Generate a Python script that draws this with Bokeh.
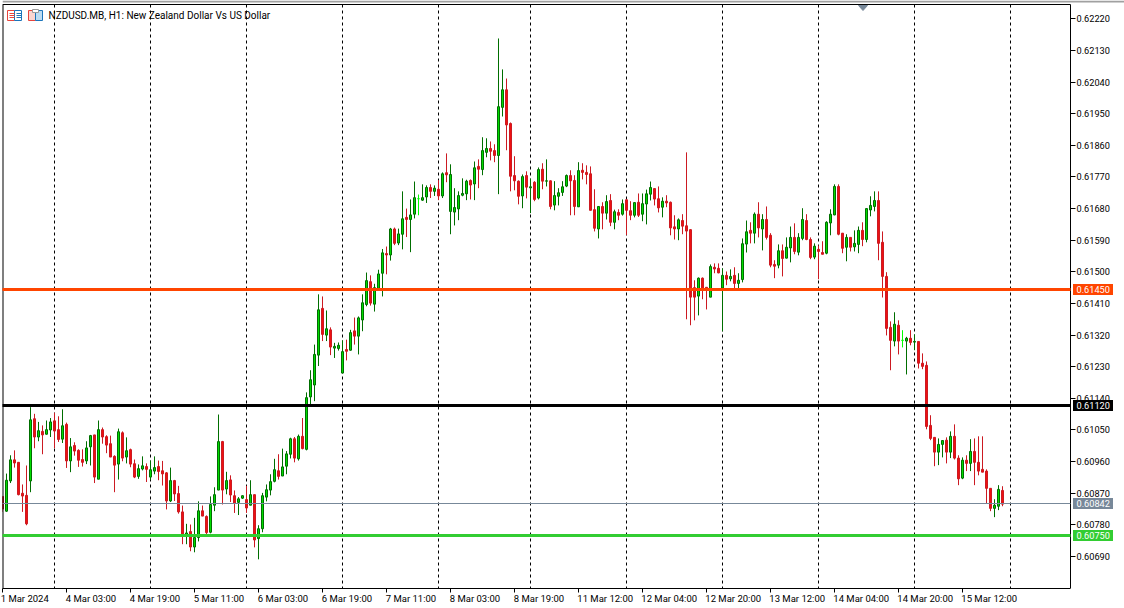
from bokeh.plotting import figure
from bokeh.models import ColumnDataSource, FixedTicker, LinearAxis, Range1d, PrintfTickFormatter
from bokeh.core.properties import value
from bokeh.embed import file_html
from bokeh.resources import INLINE

# Prices in points (1e-5). G = up, R = down, D = doji
highs = [60861,60926,60978,60992,60958,60895,60949,61115,61096,61073,
61063,61077,61084,61099,61089,61109,61071,61027,61015,60995,
60995,61018,61036,61036,61077,61057,61035,61034,60978,61054,
61046,61029,60997,60966,60952,60975,60955,60963,60975,60963,
60962,60930,60943,60908,60891,60835,60783,60781,60800,60847,
60835,60807,60861,60887,61094,61019,60931,60921,60878,60859,
60864,60891,60907,60866,60779,60871,60895,60924,60968,60981,
60997,60990,61028,61030,61037,61084,61157,61220,61293,61436,
61430,61390,61342,61298,61299,61305,61307,61335,61370,61373,
61436,61498,61490,61466,61506,61565,61572,61625,61626,61623,
61729,61680,61706,61757,61720,61749,61746,61749,61746,61761,
61783,61837,61806,61738,61729,61766,61762,61763,61814,61820,
61883,61880,61871,61863,62164,62076,62050,61925,61829,61760,
61777,61786,61765,61758,61797,61809,61820,61760,61758,61738,
61758,61777,61789,61775,61812,61809,61803,61800,61735,61686,
61698,61718,61721,61677,61678,61706,61706,61701,61698,61723,
61723,61734,61757,61737,61743,61712,61718,61700,61661,61652,
61664,61840,61621,61476,61484,61484,61456,61521,61524,61524,
61510,61501,61507,61513,61496,61595,61646,61641,61669,61698,
61664,61686,61610,61533,61578,61578,61598,61629,61638,61610,
61681,61664,61598,61581,61575,61587,61644,61678,61749,61749,
61610,61607,61598,61618,61629,61641,61681,61715,61729,61729,
61615,61499,61359,61385,61362,61334,61315,61334,61322,61302,
61268,61245,61092,61029,61026,61021,61029,61046,61066,60978,
60972,60978,61024,61026,61032,61032,60938,60884,60853,60893,60890]

body_tops = [60861,60907,60965,60965,60958,60870,60864,61079,61082,61048,
61046,61051,61073,61076,61051,61062,61066,61002,61006,60992,
60966,60999,61034,61036,61051,61051,61031,61011,60975,61045,
61042,60991,60994,60954,60940,60948,60946,60937,60943,60946,
60934,60928,60906,60906,60869,60817,60757,60761,60744,60820,
60820,60804,60838,60866,61017,61017,60906,60908,60863,60854,
60863,60852,60866,60866,60769,60863,60880,60903,60937,60934,
60945,60982,61025,61025,61032,61032,61142,61193,61265,61392,
61396,61338,61335,61288,61291,61273,61279,61327,61332,61369,
61412,61475,61472,61455,61494,61554,61552,61622,61622,61608,
61651,61655,61662,61711,61708,61711,61740,61740,61738,61735,
61779,61782,61777,61683,61717,61723,61758,61760,61796,61800,
61845,61851,61851,61845,61970,62018,62018,61922,61774,61758,
61771,61774,61742,61755,61791,61792,61759,61759,61717,61725,
61742,61774,61774,61760,61788,61789,61783,61779,61677,61686,
61686,61700,61703,61671,61669,61694,61705,61674,61697,61698,
61694,61722,61740,61737,61708,61701,61701,61698,61628,61648,
61646,61631,61620,61455,61482,61482,61456,61515,61513,61510,
61490,61490,61487,61490,61476,61580,61614,61618,61664,61664,
61649,61649,61604,61521,61560,61560,61570,61598,61598,61598,
61649,61646,61592,61573,61564,61555,61641,61664,61743,61743,
61610,61598,61598,61581,61618,61618,61680,61689,61703,61703,
61584,61487,61342,61351,61348,61305,61311,61311,61302,61302,
61240,61234,61063,61029,61009,61020,61021,61032,61032,60970,
60964,60964,60989,60989,60958,60938,60933,60884,60836,60881,60878]

body_bottoms = [60825,60819,60905,60956,60866,60862,60783,60905,61030,61030,
61036,61038,61050,61047,61023,61024,60962,60962,60990,60964,
60958,60962,61002,60916,60910,61030,61007,60973,60950,60953,
60970,60973,60953,60916,60918,60939,60938,60916,60933,60932,
60925,60848,60848,60868,60817,60752,60750,60717,60717,60744,
60805,60758,60759,60836,60879,60879,60882,60865,60841,60844,
60856,60828,60836,60737,60741,60769,60859,60879,60904,60918,
60919,60947,60981,60970,60968,60997,60995,61144,61178,61263,
61322,61320,61286,61283,61282,61212,61274,61277,61317,61317,
61363,61407,61411,61408,61453,61496,61548,61548,61581,61582,
61607,61649,61649,61664,61708,61704,61713,61729,61729,61716,
61716,61776,61672,61670,61679,61718,61722,61747,61750,61792,
61791,61840,61843,61831,61831,61968,61918,61772,61759,61715,
61716,61741,61739,61706,61710,61758,61758,61686,61690,61715,
61726,61744,61759,61686,61685,61783,61777,61675,61624,61622,
61667,61667,61641,61641,61661,61664,61675,61661,61661,61661,
61664,61693,61721,61707,61682,61684,61696,61625,61622,61622,
61630,61616,61428,61428,61431,61452,61447,61428,61508,61497,
61454,61479,61480,61467,61467,61478,61579,61610,61610,61625,
61622,61598,61519,61516,61519,61538,61539,61568,61558,61556,
61595,61592,61541,61542,61558,61550,61553,61639,61662,61607,
61567,61570,61570,61571,61578,61592,61592,61676,61686,61581,
61487,61339,61305,61303,61303,61305,61303,61299,61300,61240,
61231,61060,61026,60987,60987,61009,60987,60987,60970,60911,
60913,60955,60955,60958,60933,60930,60884,60827,60827,60833,60839]

lows = [60817,60817,60899,60943,60864,60817,60779,60873,60998,61018,
60981,61037,61030,60998,61016,61013,60942,60930,60977,60945,
60946,60953,60949,60899,60910,61011,60984,60973,60873,60909,
60961,60955,60944,60913,60911,60935,60902,60908,60924,60907,
60892,60824,60845,60848,60812,60725,60725,60705,60702,60733,
60805,60752,60756,60819,60879,60838,60867,60845,60814,60808,
60854,60814,60836,60716,60682,60759,60847,60864,60901,60909,
60919,60924,60969,60958,60963,60995,60992,61123,61132,61232,
61303,61303,61263,61255,61276,61212,61248,61276,61293,61265,
61331,61402,61404,61387,61447,61430,61493,61532,61576,61576,
61564,61599,61556,61652,61661,61702,61696,61710,61716,61704,
61710,61755,61607,61632,61647,61715,61704,61706,61704,61738,
61775,61826,61817,61812,61721,61942,61846,61729,61732,61692,
61681,61709,61667,61701,61706,61735,61743,61678,61675,61689,
61716,61741,61661,61661,61685,61763,61749,61675,61615,61595,
61621,61649,61630,61621,61647,61660,61605,61647,61655,61656,
61644,61635,61703,61689,61669,61655,61684,61604,61592,61590,
61607,61365,61348,61362,61376,61422,61393,61428,61496,61496,
61331,61462,61473,61452,61452,61470,61555,61581,61581,61598,
61561,61592,61513,61482,61510,61487,61538,61527,61550,61547,
61590,61590,61536,61536,61479,61550,61550,61604,61661,61604,
61553,61530,61558,61558,61553,61573,61584,61658,61672,61533,
61427,61319,61220,61288,61265,61285,61208,61291,61277,61225,
61223,61052,61021,60947,60950,60972,60955,60970,60966,60893,
60910,60933,60933,60893,60921,60930,60841,60819,60802,60822,60833]

directions = ("RGGRRRRGRG" "RGGRRGRGRR" "RGGRGRRRRG" "RGRRGGRGGR"
              "RRGRRRGRGG" "RRGGGRGRRG" "GRGRGGGGGR" "GGGRGRGGGG"
              "RGRGGGRGRG" "GGRGGGRGRG" "GRGGDGGRGR" "GRGGGGGRGR"
              "GGRRGGRRRR" "GRGRGRGRGG" "GGRRGRRRRG" "RGRGRGRRGR"
              "GGGRRGRRRG" "RRRRGRRGRR" "GRGRGGGRGR" "GRRRGRGGRG"
              "GRRGRRGGGR" "RGRGGRGGGR" "RRRGRDGRGR" "RRRRGGRGRR"
              "GRGRRRRRGGR")

x_labels = ["1 Mar 2024", "4 Mar 03:00", "4 Mar 19:00", "5 Mar 11:00", "6 Mar 03:00", "6 Mar 19:00",
            "7 Mar 11:00", "8 Mar 03:00", "8 Mar 19:00", "11 Mar 12:00", "12 Mar 04:00", "12 Mar 20:00",
            "13 Mar 12:00", "14 Mar 04:00", "14 Mar 20:00", "15 Mar 12:00"]
y_ticks = [0.62220, 0.62130, 0.62040, 0.61950, 0.61860, 0.61770, 0.61680, 0.61590, 0.61500, 0.61410,
           0.61320, 0.61230, 0.61140, 0.61050, 0.60960, 0.60870, 0.60780, 0.60690]
separators = [13, 37, 61, 85, 109, 132, 156, 180, 204, 228, 252]

level_values = [0.61450, 0.61120, 0.60750, 0.60842]
level_colors = ["#ff4500", "#000000", "#32cd32", "#778899"]
level_widths = [3, 3, 3, 1]
level_texts = ["0.61450", "0.61120", "0.60750", "0.60842"]

title_text = "NZDUSD.MB, H1:  New Zealand Dollar Vs US Dollar"
FONT = "Roboto"

UP_FILL, UP_EDGE = "#00dd00", "#006e00"
DN_FILL, DN_EDGE = "#ee1111", "#cc1a22"
DOJI = "#00ff00"

PRICE_PER_PX = 0.0009 / 31.63
def dx(px):
    return (px - 2) / 4
def dy(px):
    return 0.6222 - (px - 18.3) * PRICE_PER_PX
def snap(price):
    # nearest whole pixel row, so that straight level lines stay crisp
    return dy(round(18.3 + (0.6222 - price) / PRICE_PER_PX))

p = figure(width=1124, height=608, output_backend="svg", toolbar_location=None,
           x_range=Range1d(dx(2), dx(1124)), y_range=Range1d(dy(588), dy(0)),
           min_border_left=2, min_border_right=0, min_border_top=0, min_border_bottom=20,
           background_fill_color="white", border_fill_color="white",
           styles={"position": "absolute", "left": "0px", "top": "0px"})
p.xaxis.visible = False
p.yaxis.visible = False
p.grid.visible = False
p.outline_line_color = None

n = len(highs)
idx = list(range(n))
edge = [{"G": UP_EDGE, "R": DN_EDGE, "D": DOJI}[d] for d in directions]
fill = [{"G": UP_FILL, "R": DN_FILL, "D": DOJI}[d] for d in directions]
src = ColumnDataSource(dict(
    x=idx,
    high=[v / 1e5 for v in highs], low=[v / 1e5 for v in lows],
    top=[v / 1e5 for v in body_tops], bottom=[v / 1e5 for v in body_bottoms],
    edge=edge, fill=fill))

# day separators
p.segment(separators, [dy(4)] * len(separators), separators, [dy(588)] * len(separators),
          line_color="black", line_width=1, line_dash="3 3", level="underlay")

# candles
p.segment("x", "low", "x", "high", source=src, line_color="edge", line_width=1)
p.vbar("x", 0.5, "top", "bottom", source=src, fill_color="fill", line_color="edge", line_width=1)

# chart frame, left and top
p.segment([dx(2)], [dy(4)], [dx(1070)], [dy(4)], line_color="black", line_width=1)
p.segment([dx(2)], [dy(4)], [dx(2)], [dy(588)], line_color="black", line_width=2)

# x axis: tick marks
tick_bars = [16 * k for k in range(len(x_labels))]
xticks = LinearAxis(ticker=FixedTicker(ticks=tick_bars), major_tick_in=0, major_tick_out=4,
                    minor_tick_line_color=None, major_label_text_font_size="0px",
                    major_label_text_color=None, major_label_standoff=0, axis_line_color="black",
                    bounds=(dx(2), dx(1070)))
p.add_layout(xticks, "below")
# x axis: labels, which start at their tick
half_width = {s: (len(s) * 4.45) / 2 / 4 for s in x_labels}
label_pos = [t + half_width[s] for t, s in zip(tick_bars, x_labels)]
xlab = LinearAxis(ticker=FixedTicker(ticks=label_pos),
                  major_label_overrides={t: s for t, s in zip(label_pos, x_labels)},
                  major_tick_line_color=None, minor_tick_line_color=None, axis_line_color=None,
                  major_tick_in=0, major_tick_out=0,
                  major_label_text_font=FONT, major_label_text_font_size="9.5px",
                  major_label_text_color="black", major_label_standoff=0)
p.add_layout(xlab, "below")
# y axis, fixed inside the widened frame
yax = LinearAxis(ticker=FixedTicker(ticks=y_ticks), formatter=PrintfTickFormatter(format="%.5f"),
                 major_tick_in=0, major_tick_out=5, minor_tick_line_color=None,
                 major_label_text_font=FONT, major_label_text_font_size="9.2px",
                 major_label_text_color="black", major_label_standoff=1, axis_line_color="black",
                 fixed_location=dx(1070), bounds=(dy(588), dy(4)))
p.add_layout(yax, "right")

# horizontal levels with their price tags
for v, c, w, t in zip(level_values, level_colors, level_widths, level_texts):
    ys = snap(v)
    p.segment([dx(2)], [ys], [dx(1070)], [ys], line_color=c, line_width=w, level="annotation")
    p.quad(left=[dx(1072.5)], right=[dx(1112.5)], top=[ys + 5.5 * PRICE_PER_PX], bottom=[ys - 5.5 * PRICE_PER_PX],
           fill_color=c, line_color=None, level="overlay")
    p.text([dx(1076)], [ys], text=[t], text_color="white", text_font=value(FONT), text_font_size="9.2px",
           text_baseline="middle", text_align="left", level="overlay")

# grey strip along the top of the window
p.quad(left=[dx(2)], right=[dx(1124)], top=[dy(0)], bottom=[dy(2)], fill_color="#a0a0a0", line_color=None)

# title and header icons
p.text([dx(48)], [dy(15)], text=[title_text], text_font=value(FONT), text_font_size="10px",
       text_color="black", text_baseline="middle", text_align="left")
RED_I, BLUE_I = "#e8453c", "#1b75bb"
p.quad(left=[dx(7)], right=[dx(14)], top=[dy(10)], bottom=[dy(20)], fill_color="white", line_color=RED_I)
p.quad(left=[dx(14)], right=[dx(21)], top=[dy(10)], bottom=[dy(20)], fill_color="white", line_color=BLUE_I)
for yy in (13, 15, 17):
    p.segment([dx(9)], [dy(yy)], [dx(14)], [dy(yy)], line_color=RED_I)
    p.segment([dx(16)], [dy(yy)], [dx(21)], [dy(yy)], line_color=BLUE_I)
p.quad(left=[dx(28)], right=[dx(35)], top=[dy(10)], bottom=[dy(20)], fill_color="#fbd5d0", line_color=RED_I)
p.quad(left=[dx(35)], right=[dx(42)], top=[dy(10)], bottom=[dy(20)], fill_color="#bcdcf2", line_color=BLUE_I)
p.quad(left=[dx(32)], right=[dx(38)], top=[dy(9)], bottom=[dy(12)], fill_color="white", line_color="#999999")
p.patch([dx(858), dx(867), dx(862.5)], [dy(5), dy(5), dy(10)], fill_color="#778899", line_color="#778899")

open("out.html", "w").write(file_html(p, INLINE))
